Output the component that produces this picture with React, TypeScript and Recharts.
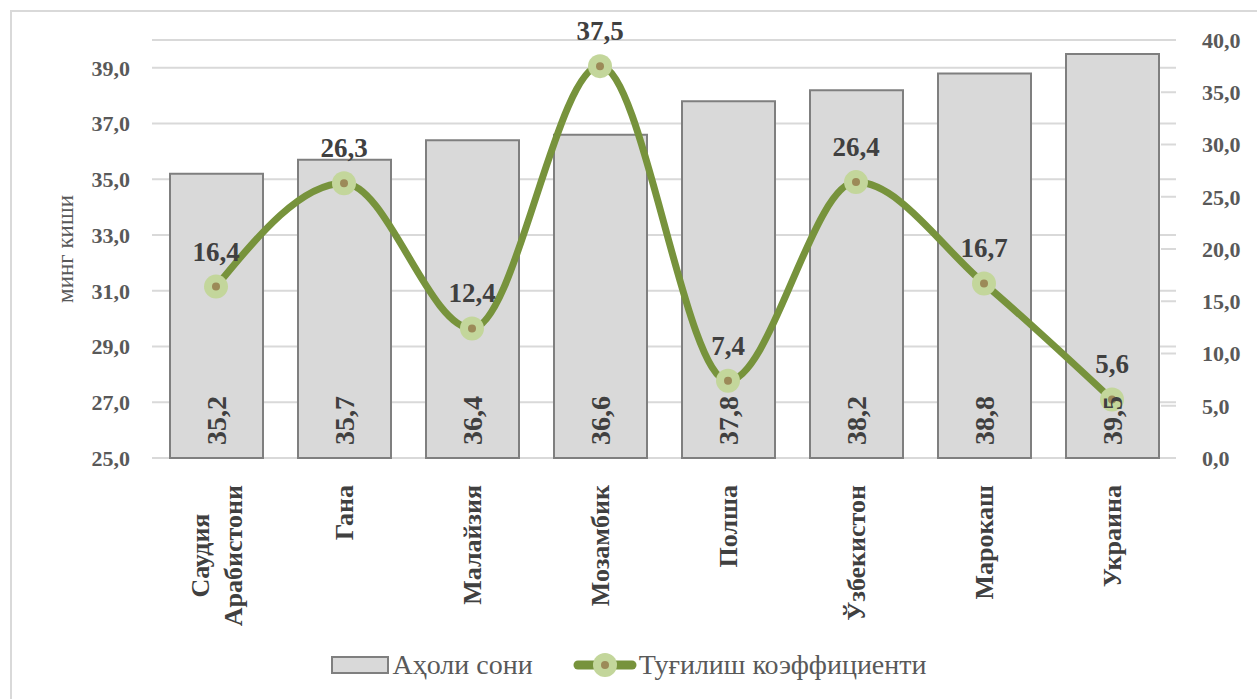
import {
  Bar,
  CartesianGrid,
  ComposedChart,
  LabelList,
  Legend,
  Line,
  XAxis,
  YAxis,
} from "recharts";

const FONT = '"Liberation Serif", "Times New Roman", serif';
const BAR_FILL = "#d9d9d9";
const BAR_STROKE = "#7f7f7f";
const LINE_COLOR = "#77933c";
const DOT_OUTER = "#c3d69b";
const DOT_INNER = "#9c8a58";
const GRID = "#d9d9d9";
const TEXT_DARK = "#404040";
const TEXT_AXIS = "#595959";

const CATEGORIES = [
  "Саудия Арабистони",
  "Гана",
  "Малайзия",
  "Мозамбик",
  "Полша",
  "Ўзбекистон",
  "Марокаш",
  "Украина",
];
const POPULATION = [35.2, 35.7, 36.4, 36.6, 37.8, 38.2, 38.8, 39.5];
const BIRTH_RATE = [16.4, 26.3, 12.4, 37.5, 7.4, 26.4, 16.7, 5.6];
const LEFT_TICKS = [25, 27, 29, 31, 33, 35, 37, 39];
const RIGHT_TICKS = [0, 5, 10, 15, 20, 25, 30, 35, 40];

const BAR_NAME = "Аҳоли сони";
const LINE_NAME = "Туғилиш коэффициенти";
const AXIS_TITLE = "минг киши";

const data = CATEGORIES.map((name, i) => ({
  name,
  population: POPULATION[i],
  birthRate: BIRTH_RATE[i],
}));

const fmt = (v: number) => v.toFixed(1).replace(".", ",");

const CAT_FONT_SIZE = 26;
const CAT_MAX_WIDTH = 160;

let measureCtx: CanvasRenderingContext2D | null = null;
function measure(text: string, font: string) {
  if (!measureCtx) measureCtx = document.createElement("canvas").getContext("2d");
  if (!measureCtx) return text.length * 14;
  measureCtx.font = font;
  return measureCtx.measureText(text).width;
}

function wrapLabel(text: string, font: string) {
  const words = text.split(" ");
  const lines: string[] = [];
  let cur = "";
  for (const w of words) {
    const next = cur ? `${cur} ${w}` : w;
    if (cur && measure(next, font) > CAT_MAX_WIDTH) {
      lines.push(cur);
      cur = w;
    } else {
      cur = next;
    }
  }
  if (cur) lines.push(cur);
  return lines;
}

function CategoryTick(props: any) {
  const { x, y, payload } = props;
  const font = `bold ${CAT_FONT_SIZE}px "Liberation Serif"`;
  const lines = wrapLabel(String(payload.value), font);
  const widest = Math.max(...lines.map((l) => measure(l, font)));
  const lineH = 33;
  const cy = y + 19 + widest / 2;
  return (
    <g transform={`translate(${x}, ${cy}) rotate(-90)`}>
      <text
        textAnchor="middle"
        fontFamily={FONT}
        fontSize={CAT_FONT_SIZE}
        fontWeight="bold"
        fill={TEXT_DARK}
      >
        {lines.map((l, i) => (
          <tspan key={i} x={0} y={(i - (lines.length - 1) / 2) * lineH} dy="0.35em">
            {l}
          </tspan>
        ))}
      </text>
    </g>
  );
}

function BarValueLabel(props: any) {
  const { x, y, width, height, value } = props;
  const cx = Number(x) + Number(width) / 2;
  const by = Number(y) + Number(height) - 13;
  return (
    <text
      transform={`translate(${cx}, ${by}) rotate(-90)`}
      textAnchor="start"
      dy="0.35em"
      fontFamily={FONT}
      fontSize={28}
      fontWeight="bold"
      fill={TEXT_DARK}
    >
      {fmt(Number(value))}
    </text>
  );
}

function PointLabel(props: any) {
  const { x, y, value } = props;
  return (
    <text
      x={x}
      y={Number(y) - 26}
      textAnchor="middle"
      fontFamily={FONT}
      fontSize={27}
      fontWeight="bold"
      fill={TEXT_DARK}
    >
      {fmt(Number(value))}
    </text>
  );
}

function Marker(props: any) {
  const { cx, cy, index } = props;
  return (
    <g key={`dot-${index}`}>
      <circle cx={cx} cy={cy} r={12} fill={DOT_OUTER} />
      <circle cx={cx} cy={cy} r={4} fill={DOT_INNER} />
    </g>
  );
}

function AxisTitle(props: any) {
  const vb = props.viewBox ?? { x: 0, y: 40, width: 152, height: 418 };
  const cx = vb.x + 65;
  const cy = vb.y + vb.height / 2;
  return (
    <text
      transform={`translate(${cx}, ${cy}) rotate(-90)`}
      textAnchor="middle"
      dy="0.35em"
      fontFamily={FONT}
      fontSize={23}
      fill={TEXT_AXIS}
    >
      {AXIS_TITLE}
    </text>
  );
}

function LegendContent() {
  return (
    <div
      style={{
        height: 50,
        display: "flex",
        justifyContent: "center",
        alignItems: "flex-start",
        fontFamily: FONT,
        fontSize: 28,
        color: TEXT_AXIS,
      }}
    >
      <div style={{ display: "flex", alignItems: "center", height: 32, marginRight: 40 }}>
        <svg width={58} height={20}>
          <rect x={1} y={2} width={56} height={16} fill={BAR_FILL} stroke={BAR_STROKE} strokeWidth={2} />
        </svg>
        <span style={{ marginLeft: 4 }}>{BAR_NAME}</span>
      </div>
      <div style={{ display: "flex", alignItems: "center", height: 32 }}>
        <svg width={64} height={28}>
          <line x1={5} y1={14} x2={59} y2={14} stroke={LINE_COLOR} strokeWidth={9} strokeLinecap="round" />
          <circle cx={32} cy={14} r={12} fill={DOT_OUTER} />
          <circle cx={32} cy={14} r={4} fill={DOT_INNER} />
        </svg>
        <span style={{ marginLeft: 2 }}>{LINE_NAME}</span>
      </div>
    </div>
  );
}

export default function App() {
  const tickStyle = {
    fontFamily: FONT,
    fontSize: 22,
    fontWeight: "bold" as const,
    fill: TEXT_AXIS,
  };
  return (
    <div
      style={{
        position: "fixed",
        left: 0,
        top: 0,
        width: 1257,
        height: 699,
        background: "#fff",
        overflow: "hidden",
      }}
    >
      <div
        style={{
          position: "absolute",
          left: 10,
          top: 10,
          width: 1300,
          height: 760,
          border: "2px solid #d9d9d9",
        }}
      />
      <div style={{ position: "absolute", left: 0, top: 0 }}>
        <ComposedChart
          width={1257}
          height={699}
          data={data}
          margin={{ top: 40, right: 0, bottom: 0, left: 0 }}
        >
          <CartesianGrid vertical={false} yAxisId="left" stroke={GRID} strokeWidth={2} />
          <XAxis
            dataKey="name"
            interval={0}
            height={191}
            tickLine={false}
            axisLine={false}
            tick={<CategoryTick />}
          />
          <YAxis
            yAxisId="left"
            domain={[25, 40]}
            ticks={LEFT_TICKS}
            width={152}
            axisLine={false}
            tickLine={false}
            tickSize={0}
            tickMargin={22}
            tick={tickStyle}
            tickFormatter={(v: number) => fmt(v)}
            label={<AxisTitle />}
          />
          <YAxis
            yAxisId="right"
            orientation="right"
            domain={[0, 40]}
            ticks={RIGHT_TICKS}
            width={81}
            axisLine={false}
            tickLine={{ stroke: GRID, strokeWidth: 2 }}
            tickSize={-15}
            tickMargin={41}
            tick={tickStyle}
            tickFormatter={(v: number) => fmt(v)}
          />
          <Legend verticalAlign="bottom" content={<LegendContent />} />
          <Bar
            yAxisId="left"
            dataKey="population"
            name={BAR_NAME}
            fill={BAR_FILL}
            stroke={BAR_STROKE}
            strokeWidth={2}
            barSize={93}
            isAnimationActive={false}
          >
            <LabelList dataKey="population" content={<BarValueLabel />} />
          </Bar>
          <Line
            yAxisId="right"
            type="monotone"
            dataKey="birthRate"
            name={LINE_NAME}
            stroke={LINE_COLOR}
            strokeWidth={7}
            dot={<Marker />}
            activeDot={false}
            isAnimationActive={false}
          >
            <LabelList dataKey="birthRate" content={<PointLabel />} />
          </Line>
        </ComposedChart>
      </div>
    </div>
  );
}
